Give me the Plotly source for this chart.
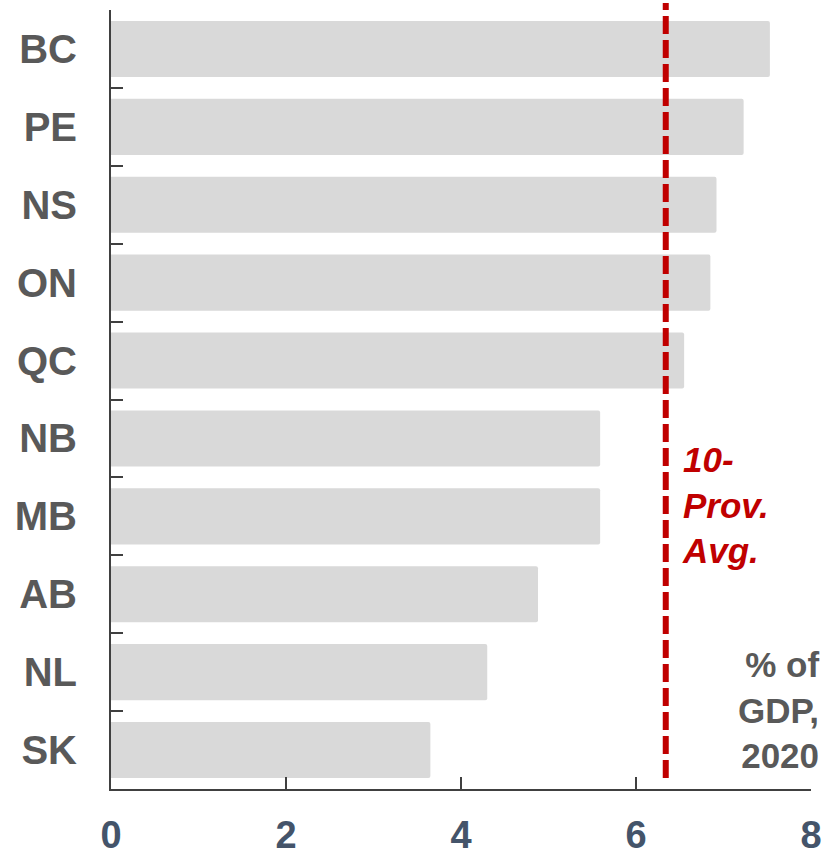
import plotly.graph_objects as go

# Provincial values, % of GDP, 2020
provinces = ["BC", "PE", "NS", "ON", "QC", "NB", "MB", "AB", "NL", "SK"]
values = [7.53, 7.23, 6.92, 6.85, 6.55, 5.59, 5.59, 4.88, 4.30, 3.65]
avg_value = 6.34
x_ticks = [0, 2, 4, 6, 8]

FONT = "Arial, 'Liberation Sans', sans-serif"
GREY_TXT = "#595959"
AXIS_CLR = "#404040"
RED = "#C00000"

fig = go.Figure()

fig.add_trace(
    go.Bar(
        x=values,
        y=provinces,
        orientation="h",
        marker=dict(color="#D9D9D9", line=dict(width=0), cornerradius=2),
        hoverinfo="x+y",
        showlegend=False,
    )
)

# 10-province average line
fig.add_shape(
    type="line",
    xref="x", yref="paper",
    x0=avg_value, x1=avg_value,
    y0=0.014, y1=1.009,
    line=dict(color=RED, width=6, dash="18px,6px"),
)

fig.add_annotation(
    text="<b><i>10-<br>Prov.<br>Avg.</i></b>",
    xref="x", yref="paper",
    x=avg_value, y=0.364,
    xanchor="left", yanchor="middle",
    xshift=14,
    align="left",
    showarrow=False,
    font=dict(family=FONT, size=35, color=RED),
)

fig.add_annotation(
    text="<b>% of<br>GDP,<br>2020</b>",
    xref="x", yref="paper",
    x=8, y=0.101,
    xanchor="right", yanchor="middle",
    xshift=10,
    align="right",
    showarrow=False,
    font=dict(family=FONT, size=35, color=GREY_TXT),
)

fig.update_layout(
    width=827,
    height=857,
    margin=dict(l=111, r=16, t=10, b=68),
    plot_bgcolor="white",
    paper_bgcolor="white",
    bargap=0.28,
    font=dict(family=FONT),
)

fig.update_xaxes(
    range=[0, 8],
    tickvals=x_ticks,
    ticks="inside",
    ticklen=12,
    tickwidth=2,
    tickcolor=AXIS_CLR,
    showline=True,
    linecolor=AXIS_CLR,
    linewidth=2,
    showgrid=False,
    zeroline=False,
    automargin=False,
    ticklabelstandoff=11,
    tickfont=dict(family=FONT, size=38, color="#44546A", weight="bold"),
)

fig.update_yaxes(
    categoryorder="array",
    categoryarray=provinces,
    autorange="reversed",
    tickson="boundaries",
    ticks="inside",
    ticklen=12,
    tickwidth=2,
    tickcolor=AXIS_CLR,
    showline=True,
    linecolor=AXIS_CLR,
    linewidth=2,
    showgrid=False,
    zeroline=False,
    automargin=False,
    ticklabelstandoff=24,
    tickfont=dict(family=FONT, size=40, color=GREY_TXT, weight="bold"),
)

# drop the default page margin so the figure sits at the window origin
fig.write_html(
    "out.html",
    config={"displayModeBar": False},
    post_script="document.body.style.margin='0';",
)
